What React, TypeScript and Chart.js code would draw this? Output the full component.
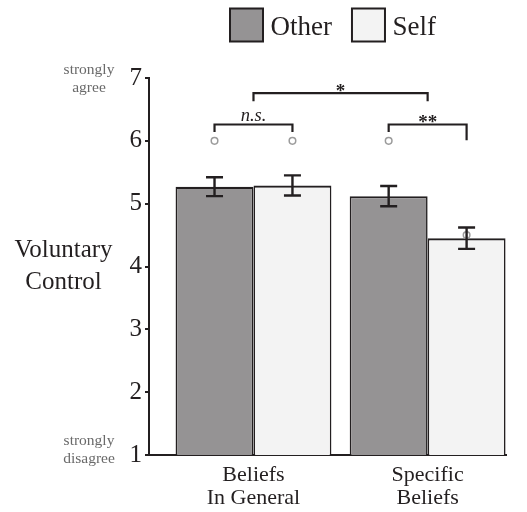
import React, { useEffect, useRef } from 'react';
import { Chart, registerables } from 'chart.js';

Chart.register(...registerables);

// ---- data ----
const categories: string[][] = [['Beliefs', 'In General'], ['Specific', 'Beliefs']];
const seriesNames = ['Other', 'Self'];
const otherValues = [5.27, 5.12];
const selfValues = [5.29, 4.45];
const otherSE = [0.15, 0.16];
const selfSE = [0.16, 0.17];
const otherMarkers = [6, 6];
const selfMarkers = [6, 4.5];
const yTickValues = [1, 2, 3, 4, 5, 6, 7];
const yTopAnchor = ['strongly', 'agree'];
const yBottomAnchor = ['strongly', 'disagree'];
const yTitleLines = ['Voluntary', 'Control'];

// brackets: series index (or null for category centre), category index, levels in data units
const brackets = [
  { fromSeries: 0, fromCat: 0, toSeries: 1, toCat: 0, level: 6.26, leftEnd: 6.14, rightEnd: 6.14, label: 'n.s.', italic: true },
  { fromSeries: 0, fromCat: 1, toSeries: 1, toCat: 1, level: 6.26, leftEnd: 6.14, rightEnd: 6.01, label: '**', italic: false },
  { fromSeries: null, fromCat: 0, toSeries: null, toCat: 1, level: 6.76, leftEnd: 6.63, rightEnd: 6.63, label: '*', italic: false },
];

const seriesValues = [otherValues, selfValues];
const seriesSE = [otherSE, selfSE];
const seriesMarkers = [otherMarkers, selfMarkers];
const seriesColors = ['#959394', '#f3f3f3'];

const INK = '#231f20';
const SERIF = '"Liberation Serif", "Times New Roman", serif';

const annotationPlugin = {
  id: 'annotations',
  afterDatasetsDraw(chart: any) {
    const ctx = chart.ctx;
    const xs = chart.scales.x;
    const ys = chart.scales.y;
    ctx.save();
    // markers (open circles)
    seriesMarkers.forEach((arr, di) => {
      const meta = chart.getDatasetMeta(di);
      arr.forEach((v, i) => {
        const el = meta.data[i];
        ctx.beginPath();
        ctx.arc(el.x, ys.getPixelForValue(v), 3.3, 0, Math.PI * 2);
        ctx.strokeStyle = '#9b9b9b';
        ctx.lineWidth = 1.5;
        ctx.stroke();
      });
    });
    // error bars
    ctx.strokeStyle = INK;
    ctx.lineWidth = 2.4;
    seriesValues.forEach((arr, di) => {
      const meta = chart.getDatasetMeta(di);
      arr.forEach((v, i) => {
        const el = meta.data[i];
        const se = seriesSE[di][i];
        const yHi = ys.getPixelForValue(v + se);
        const yLo = ys.getPixelForValue(v - se);
        const hw = 8.5;
        ctx.beginPath();
        ctx.moveTo(el.x, yHi);
        ctx.lineTo(el.x, yLo);
        ctx.moveTo(el.x - hw, yHi);
        ctx.lineTo(el.x + hw, yHi);
        ctx.moveTo(el.x - hw, yLo);
        ctx.lineTo(el.x + hw, yLo);
        ctx.stroke();
      });
    });
    // brackets
    const px = (s: number | null, c: number) =>
      s === null ? xs.getPixelForValue(c + 1) : chart.getDatasetMeta(s).data[c].x;
    brackets.forEach((b) => {
      const x1 = px(b.fromSeries, b.fromCat);
      const x2 = px(b.toSeries, b.toCat);
      const y = ys.getPixelForValue(b.level);
      ctx.beginPath();
      ctx.lineWidth = 2.2;
      ctx.strokeStyle = INK;
      ctx.moveTo(x1, ys.getPixelForValue(b.leftEnd));
      ctx.lineTo(x1, y);
      ctx.lineTo(x2, y);
      ctx.lineTo(x2, ys.getPixelForValue(b.rightEnd));
      ctx.stroke();
      ctx.fillStyle = INK;
      ctx.textAlign = 'center';
      ctx.textBaseline = 'alphabetic';
      if (b.italic) {
        ctx.font = `italic 18.5px ${SERIF}`;
        ctx.fillText(b.label, (x1 + x2) / 2, y - 3);
      } else {
        ctx.font = `bold 19px ${SERIF}`;
        ctx.fillText(b.label, (x1 + x2) / 2, y + 3.5);
      }
    });
    ctx.restore();
  },
  afterDraw(chart: any) {
    const ctx = chart.ctx;
    const ys = chart.scales.y;
    const area = chart.chartArea;
    ctx.save();
    // legend
    let x = 230;
    const boxTop = 8.5;
    const box = 33;
    ctx.textAlign = 'left';
    ctx.textBaseline = 'alphabetic';
    ctx.font = `27px ${SERIF}`;
    seriesNames.forEach((name, i) => {
      ctx.fillStyle = seriesColors[i];
      ctx.fillRect(x, boxTop, box, box);
      ctx.strokeStyle = INK;
      ctx.lineWidth = 2;
      ctx.strokeRect(x, boxTop, box, box);
      ctx.fillStyle = INK;
      ctx.fillText(name, x + box + 7.5, 34.5);
      x += box + 7.5 + ctx.measureText(name).width + 20;
    });
    // y title
    ctx.font = `25px ${SERIF}`;
    ctx.textAlign = 'center';
    const midY = (area.top + area.bottom) / 2;
    ctx.fillText(yTitleLines[0], 63.5, midY - 9.5);
    ctx.fillText(yTitleLines[1], 63.5, midY + 22.5);
    // anchor labels
    ctx.fillStyle = '#6a6a6a';
    ctx.font = `15.5px ${SERIF}`;
    const yTop = ys.getPixelForValue(yTickValues[yTickValues.length - 1]);
    const yBot = ys.getPixelForValue(yTickValues[0]);
    ctx.fillText(yTopAnchor[0], 89, yTop - 4);
    ctx.fillText(yTopAnchor[1], 89, yTop + 14);
    ctx.fillText(yBottomAnchor[0], 89, yBot - 10);
    ctx.fillText(yBottomAnchor[1], 89, yBot + 8);
    ctx.restore();
  },
};

export default function App() {
  const ref = useRef<HTMLCanvasElement>(null);
  useEffect(() => {
    if (!ref.current) return;
    const chart = new Chart(ref.current, {
      type: 'bar',
      data: {
        datasets: seriesNames.map((name, di) => ({
          label: name,
          data: seriesValues[di].map((v, i) => ({ x: i + 1, y: v })),
          backgroundColor: seriesColors[di],
          borderColor: INK,
          borderWidth: { top: 2.2, left: 1.6, right: 1.6, bottom: 0 },
          borderSkipped: 'bottom',
          categoryPercentage: 0.895,
          barPercentage: 1,
        })),
      } as any,
      options: {
        responsive: false,
        animation: false,
        layout: { padding: { top: 78, right: 21, left: 0, bottom: 0 } },
        plugins: { legend: { display: false }, tooltip: { enabled: false } },
        scales: {
          x: {
            type: 'linear',
            min: 0.4,
            max: 2.45,
            offset: false,
            afterBuildTicks: (s: any) => {
              s.ticks = categories.map((_, i) => ({ value: i + 1 }));
            },
            ticks: {
              callback: (v: any) => categories[Math.round(v) - 1],
              font: { family: SERIF, size: 22, lineHeight: 1.05 },
              color: INK,
              padding: 8.5,
              maxRotation: 0,
              autoSkip: false,
            },
            grid: { display: false, drawTicks: false, offset: false },
            border: { display: true, color: INK, width: 2 },
            afterFit: (s: any) => {
              s.height = 57;
            },
          },
          y: {
            min: 1,
            max: 7,
            afterBuildTicks: (s: any) => {
              s.ticks = yTickValues.map((v) => ({ value: v }));
            },
            ticks: {
              font: { family: SERIF, size: 25 },
              color: INK,
              padding: 3,
            },
            grid: { drawOnChartArea: false, drawTicks: true, tickLength: 4, color: INK, lineWidth: 2 },
            border: { display: true, color: INK, width: 2 },
            afterFit: (s: any) => {
              s.width = 149;
            },
          },
        },
      } as any,
      plugins: [annotationPlugin],
    });
    return () => chart.destroy();
  }, []);
  return (
    <div style={{ position: 'fixed', left: 0, top: 0, width: 527, height: 512, background: '#fff' }}>
      <canvas ref={ref} width={527} height={512} style={{ display: 'block' }} />
    </div>
  );
}
